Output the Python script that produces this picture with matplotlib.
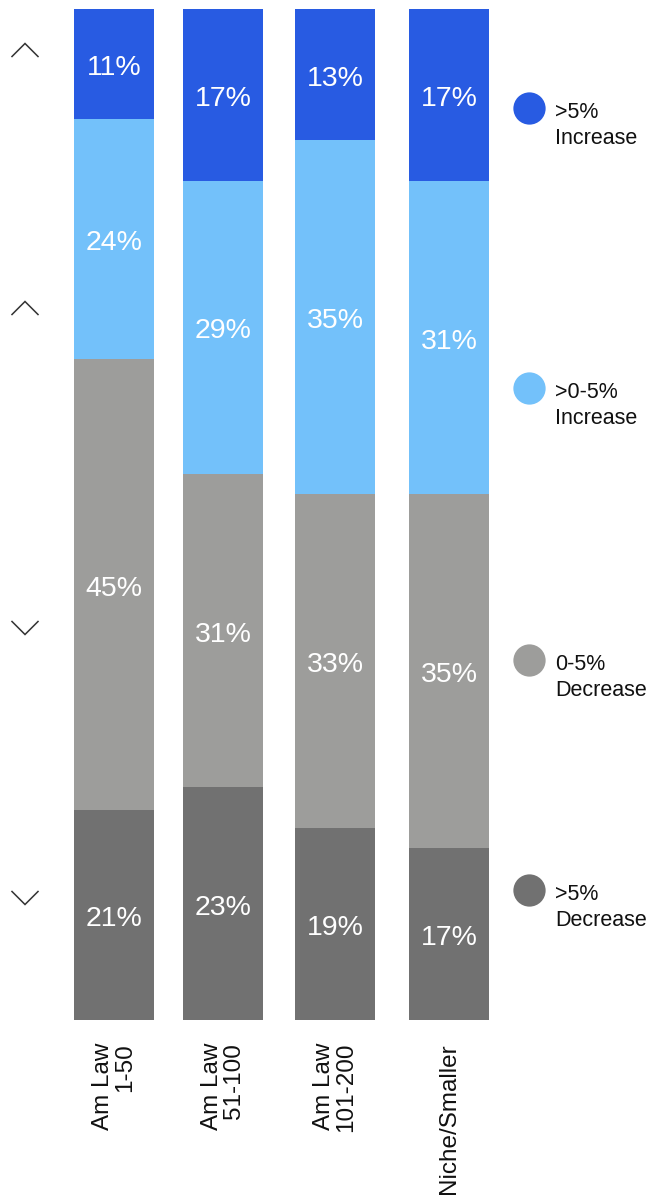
import numpy as np
import matplotlib
matplotlib.use("Agg")
import matplotlib.pyplot as plt
from matplotlib.transforms import ScaledTranslation

plt.rcParams["font.family"] = ["Liberation Sans", "DejaVu Sans"]

# Survey shares per firm group (percent)
groups = ["Am Law\n1-50", "Am Law\n51-100", "Am Law\n101-200", "Niche/Smaller"]
inc_big = [11, 17, 13, 17]      # >5% increase
inc_small = [24, 29, 35, 31]    # >0-5% increase
dec_small = [45, 31, 33, 35]    # 0-5% decrease
dec_big = [21, 23, 19, 17]      # >5% decrease

legend_labels = [">5%\nIncrease", ">0-5%\nIncrease", "0-5%\nDecrease", ">5%\nDecrease"]
colors = ["#285BE2", "#73C1FA", "#9D9D9B", "#717171"]

W, H = 665, 1196
fig = plt.figure(figsize=(W / 100, H / 100), dpi=100)

# Bar area
bar_top, bar_bottom = 9, 1020
ax = fig.add_axes([0, (H - bar_bottom) / H, 1, (bar_bottom - bar_top) / H])
ax.set_xlim(0, W)
ax.set_ylim(0, 1)
ax.axis("off")

x_pos = np.array([114, 223, 335, 449])
bar_w = 80

# stack from bottom: >5% decrease, 0-5% decrease, >0-5% increase, >5% increase
stack = np.array([dec_big, dec_small, inc_small, inc_big], dtype=float)
totals = stack.sum(axis=0)
shares = stack / totals
stack_colors = colors[::-1]

base = np.zeros(len(groups))
label_off = ScaledTranslation(0, -11 / 100, fig.dpi_scale_trans)
for row, raw, col in zip(shares, stack, stack_colors):
    ax.bar(x_pos, row, bottom=base, width=bar_w, color=col, linewidth=0)
    for xi, b, h, v in zip(x_pos, base, row, raw):
        ax.text(xi, b + h / 2, f"{int(v)}%", ha="center", va="baseline",
                color="white", fontsize=20.5,
                transform=ax.transData + label_off)
    base += row

# Overlay in pixel coordinates for decorations
ov = fig.add_axes([0, 0, 1, 1], zorder=3)
ov.set_xlim(0, W)
ov.set_ylim(H, 0)
ov.axis("off")
ov.patch.set_alpha(0)

# group labels, rotated under each bar
for xi, g in zip(x_pos, groups):
    ov.text(xi, 1043, g, rotation=90, ha="center", va="top",
            multialignment="right", fontsize=17.5, color="#111111",
            linespacing=1.05)

# chevrons at the left
chev = [(50, 1), (308, 1), (628, -1), (898, -1)]
for cy, d in chev:
    ov.plot([12, 25, 38], [cy + 6.5 * d, cy - 6.5 * d, cy + 6.5 * d],
            color="#333333", lw=1.1, solid_joinstyle="miter")

# legend on the right
leg_y = [108, 388, 660, 890]
for cy, lab, col in zip(leg_y, legend_labels, colors):
    ov.scatter([529], [cy], s=540, color=col, linewidths=0)
    l1, l2 = lab.split("\n")
    ov.text(555, cy + 10, l1, ha="left", va="baseline", fontsize=15.5, color="#111111")
    ov.text(555, cy + 36, l2, ha="left", va="baseline", fontsize=15.5, color="#111111")

fig.savefig("out.png", dpi=100)
